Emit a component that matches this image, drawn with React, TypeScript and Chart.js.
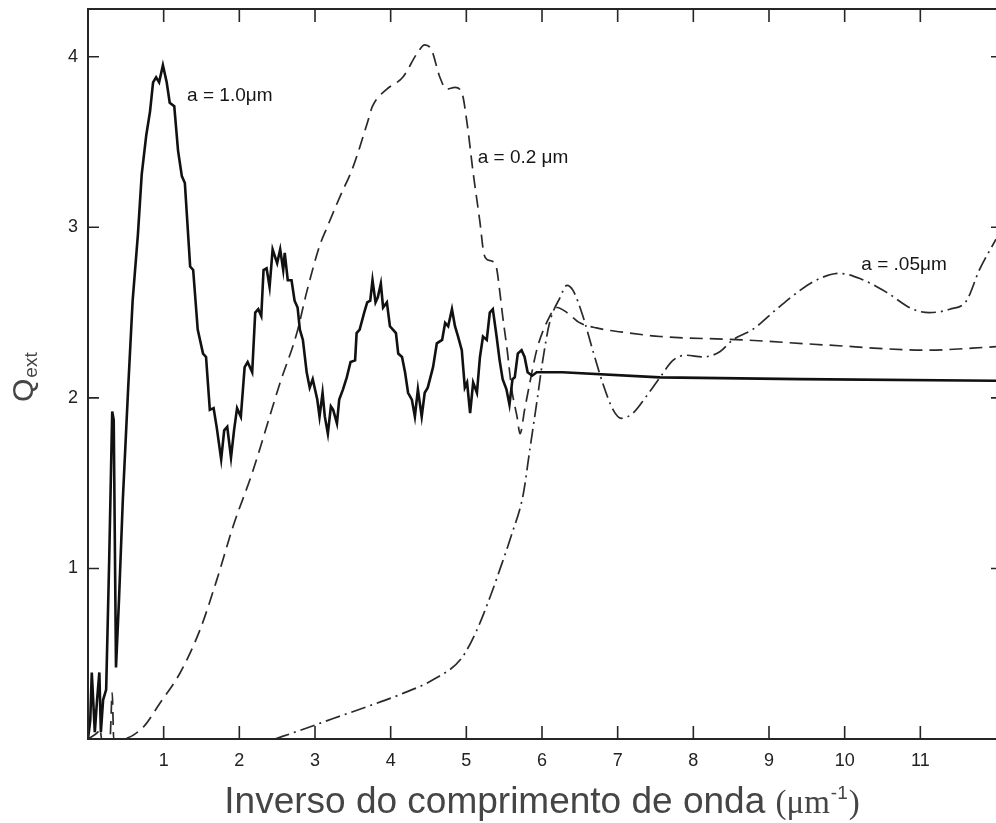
import React, { useEffect, useRef } from "react";
import { Chart, registerables } from "chart.js";

Chart.register(...registerables);

// ---- axes ----
const X_MIN = 0;
const X_MAX = 12;
const Y_MIN = 0;
const Y_MAX = 4.28;
const X_TICKS = [1, 2, 3, 4, 5, 6, 7, 8, 9, 10, 11];
const Y_TICKS = [1, 2, 3, 4];

const X_TITLE_MAIN = "Inverso do comprimento de onda ";
const X_TITLE_UNIT_OPEN = "(\u03bcm";
const X_TITLE_UNIT_SUP = "-1";
const X_TITLE_UNIT_CLOSE = ")";
const Y_TITLE_MAIN = "Q";
const Y_TITLE_SUB = "ext";

// ---- a = 1.0 um (solid) ----
const A10_X = [
  0, 0.03, 0.05, 0.09, 0.12, 0.15, 0.17, 0.2, 0.24, 0.28,
  0.32, 0.34, 0.37, 0.41, 0.46, 0.53, 0.59, 0.66, 0.71, 0.77,
  0.82, 0.86, 0.9, 0.94, 0.99, 1.04, 1.08, 1.14, 1.19, 1.24,
  1.28, 1.35, 1.39, 1.45, 1.52, 1.56, 1.61, 1.66, 1.7, 1.76,
  1.8, 1.84, 1.89, 1.93, 1.97, 2.02, 2.07, 2.11, 2.17, 2.21,
  2.25, 2.29, 2.32, 2.36, 2.4, 2.44, 2.5, 2.54, 2.58, 2.6,
  2.64, 2.69, 2.73, 2.77, 2.8, 2.84, 2.89, 2.93, 2.97, 3.03,
  3.06, 3.1, 3.13, 3.17, 3.21, 3.24, 3.29, 3.32, 3.37, 3.42,
  3.47, 3.53, 3.55, 3.59, 3.65, 3.69, 3.73, 3.76, 3.8, 3.83,
  3.87, 3.9, 3.95, 3.99, 4.03, 4.07, 4.1, 4.15, 4.19, 4.23,
  4.28, 4.32, 4.36, 4.41, 4.45, 4.49, 4.56, 4.61, 4.68, 4.72,
  4.76, 4.81, 4.85, 4.89, 4.94, 4.98, 5.01, 5.05, 5.09, 5.14,
  5.18, 5.22, 5.27, 5.31, 5.35, 5.4, 5.44, 5.48, 5.53, 5.57,
  5.61, 5.64, 5.68, 5.73, 5.77, 5.81, 5.87, 5.93, 6.27, 7.56,
  9.41, 12.0,
];
const A10_Y = [
  0, 0.11, 0.39, 0.04, 0.23, 0.39, 0.04, 0.23, 0.29, 1.05,
  1.92, 1.87, 0.42, 0.82, 1.4, 2.05, 2.57, 2.96, 3.31, 3.54,
  3.68, 3.85, 3.88, 3.85, 3.95, 3.85, 3.73, 3.71, 3.45, 3.3,
  3.26, 2.77, 2.75, 2.4, 2.26, 2.24, 1.93, 1.94, 1.83, 1.64,
  1.81, 1.83, 1.65, 1.81, 1.94, 1.89, 2.18, 2.21, 2.15, 2.5,
  2.52, 2.48, 2.75, 2.76, 2.65, 2.87, 2.79, 2.87, 2.75, 2.85,
  2.69, 2.69, 2.57, 2.53, 2.4, 2.34, 2.15, 2.06, 2.11, 1.99,
  1.89, 2.03, 1.89, 1.79, 1.95, 1.93, 1.85, 1.99, 2.05, 2.12,
  2.21, 2.22, 2.38, 2.4, 2.5, 2.56, 2.57, 2.69, 2.56, 2.59,
  2.67, 2.53, 2.56, 2.42, 2.4, 2.38, 2.26, 2.24, 2.15, 2.03,
  1.99, 1.89, 2.05, 1.89, 2.03, 2.06, 2.18, 2.32, 2.34, 2.44,
  2.42, 2.52, 2.42, 2.36, 2.28, 2.06, 2.09, 1.91, 2.09, 2.03,
  2.24, 2.36, 2.34, 2.5, 2.52, 2.36, 2.22, 2.11, 2.05, 1.96,
  2.11, 2.12, 2.26, 2.28, 2.24, 2.15, 2.13, 2.15, 2.15, 2.12,
  2.11, 2.1,
];

// ---- a = 0.2 um (dashed) ----
const A02_X = [
  0, 0.13, 0.16, 0.18, 0.29, 0.32, 0.34, 0.45, 0.73, 0.95,
  1.22, 1.48, 1.7, 1.92, 2.17, 2.54, 2.76, 2.89, 3.06, 3.16,
  3.33, 3.5, 3.69, 3.76, 3.95, 4.16, 4.35, 4.45, 4.54, 4.65,
  4.74, 4.85, 4.94, 5.01, 5.09, 5.18, 5.23, 5.28, 5.35, 5.4,
  5.44, 5.48, 5.54, 5.6, 5.67, 5.71, 5.77, 5.84, 5.93, 6.06,
  6.2, 6.33, 6.5, 6.72, 7.16, 7.56, 8.65, 9.76, 11.08, 12.0,
];
const A02_Y = [
  0, 0.04, 0.06, 0, 0, 0.27, 0, 0, 0.07, 0.21,
  0.39, 0.64, 0.93, 1.25, 1.56, 2.09, 2.38, 2.62, 2.89, 3.0,
  3.18, 3.35, 3.61, 3.71, 3.81, 3.88, 4.02, 4.07, 4.04, 3.88,
  3.81, 3.82, 3.79, 3.61, 3.32, 3.03, 2.85, 2.81, 2.8, 2.76,
  2.63, 2.48, 2.28, 2.05, 1.89, 1.79, 1.93, 2.09, 2.28, 2.44,
  2.53, 2.5, 2.44, 2.41, 2.38, 2.36, 2.34, 2.31, 2.28, 2.3,
];

// ---- a = 0.05 um (dash-dot) ----
const A005_X = [
  2.47, 2.8, 3.24, 3.69, 4.12, 4.57, 4.93, 5.13, 5.32, 5.44,
  5.6, 5.75, 5.84, 5.93, 6.01, 6.1, 6.24, 6.33, 6.41, 6.54,
  6.67, 6.8, 6.94, 7.05, 7.2, 7.38, 7.56, 7.73, 7.91, 8.12,
  8.35, 8.52, 8.78, 9.1, 9.41, 9.67, 9.93, 10.2, 10.55, 10.9,
  11.12, 11.39, 11.61, 11.78, 12.0,
];
const A005_Y = [
  0, 0.05, 0.12, 0.19, 0.26, 0.35, 0.47, 0.63, 0.84, 0.99,
  1.2, 1.43, 1.7, 1.97, 2.22, 2.44, 2.59, 2.66, 2.63, 2.48,
  2.28, 2.09, 1.93, 1.88, 1.91, 2.01, 2.12, 2.22, 2.25, 2.24,
  2.27, 2.34, 2.4, 2.52, 2.63, 2.7, 2.73, 2.7, 2.62, 2.52,
  2.5, 2.52, 2.57, 2.75, 2.93,
];

// ---- curve labels (anchored in data units) ----
const CURVE_LABEL_TEXT = ["a = 1.0\u03bcm", "a = 0.2 \u03bcm", "a = .05\u03bcm"];
const CURVE_LABEL_X = [1.31, 5.15, 10.22];
const CURVE_LABEL_Y = [3.77, 3.41, 2.78];

const toPoints = (xs: number[], ys: number[]) => xs.map((x, i) => ({ x, y: ys[i] }));

const framePlugin = {
  id: "frameAndText",
  afterDatasetsDraw(chart: any) {
    const { ctx, chartArea: a, scales } = chart;
    const xs = scales.x;
    const ys = scales.y;
    ctx.save();
    // frame
    ctx.strokeStyle = "#262626";
    ctx.lineWidth = 2;
    ctx.beginPath();
    ctx.moveTo(a.left, a.top);
    ctx.lineTo(a.right, a.top);
    ctx.moveTo(a.left, a.top - 1);
    ctx.lineTo(a.left, a.bottom + 1);
    ctx.moveTo(a.left, a.bottom);
    ctx.lineTo(a.right, a.bottom);
    ctx.stroke();
    // inward ticks
    ctx.lineWidth = 1.6;
    ctx.beginPath();
    for (const t of xs.ticks) {
      const p = xs.getPixelForValue(t.value);
      ctx.moveTo(p, a.bottom);
      ctx.lineTo(p, a.bottom - 13);
      ctx.moveTo(p, a.top);
      ctx.lineTo(p, a.top + 13);
    }
    for (const t of ys.ticks) {
      const p = ys.getPixelForValue(t.value);
      ctx.moveTo(a.left, p);
      ctx.lineTo(a.left + 11, p);
      ctx.moveTo(a.right, p);
      ctx.lineTo(a.right - 5, p);
    }
    ctx.stroke();

    // curve labels
    ctx.fillStyle = "#161616";
    ctx.font = "19px 'Liberation Sans', Arial, sans-serif";
    ctx.textAlign = "left";
    ctx.textBaseline = "middle";
    CURVE_LABEL_TEXT.forEach((txt, i) => {
      ctx.fillText(txt, xs.getPixelForValue(CURVE_LABEL_X[i]), ys.getPixelForValue(CURVE_LABEL_Y[i]));
    });

    // x title
    ctx.fillStyle = "#454545";
    ctx.textBaseline = "alphabetic";
    const sansBig = "37px 'Liberation Sans', Arial, sans-serif";
    const serifBig = "33px 'Liberation Serif', 'Times New Roman', serif";
    const sansSup = "19px 'Liberation Sans', Arial, sans-serif";
    ctx.font = sansBig;
    const w1 = ctx.measureText(X_TITLE_MAIN).width;
    ctx.font = serifBig;
    const w2 = ctx.measureText(X_TITLE_UNIT_OPEN).width;
    const w4 = ctx.measureText(X_TITLE_UNIT_CLOSE).width;
    ctx.font = sansSup;
    const w3 = ctx.measureText(X_TITLE_UNIT_SUP).width;
    const total = w1 + w2 + w3 + w4 + 2;
    let x0 = (a.left + a.right) / 2 - total / 2;
    const base = 813;
    ctx.font = sansBig;
    ctx.fillText(X_TITLE_MAIN, x0, base);
    x0 += w1;
    ctx.font = serifBig;
    ctx.fillText(X_TITLE_UNIT_OPEN, x0, base);
    x0 += w2 + 1;
    ctx.font = sansSup;
    ctx.fillText(X_TITLE_UNIT_SUP, x0, base - 14);
    x0 += w3 + 1;
    ctx.font = serifBig;
    ctx.fillText(X_TITLE_UNIT_CLOSE, x0, base);

    // y title (rotated)
    ctx.save();
    ctx.translate(33, 402);
    ctx.rotate(-Math.PI / 2);
    ctx.font = "30px 'Liberation Sans', Arial, sans-serif";
    ctx.fillText(Y_TITLE_MAIN, 0, 0);
    const wq = ctx.measureText(Y_TITLE_MAIN).width;
    ctx.font = "19px 'Liberation Sans', Arial, sans-serif";
    ctx.fillText(Y_TITLE_SUB, wq + 1, 4);
    ctx.restore();

    ctx.restore();
  },
};

export default function App() {
  const ref = useRef<HTMLCanvasElement | null>(null);

  useEffect(() => {
    if (!ref.current) return;
    const chart = new Chart(ref.current, {
      type: "line",
      data: {
        datasets: [
          {
            label: "a = 1.0 \u03bcm",
            data: toPoints(A10_X, A10_Y),
            borderColor: "#111111",
            borderWidth: 2.6,
            pointRadius: 0,
            tension: 0,
            fill: false,
          },
          {
            label: "a = 0.2 \u03bcm",
            data: toPoints(A02_X, A02_Y),
            borderColor: "#2a2a2a",
            borderWidth: 1.7,
            borderDash: [13, 7],
            pointRadius: 0,
            cubicInterpolationMode: "monotone",
            fill: false,
          },
          {
            label: "a = 0.05 \u03bcm",
            data: toPoints(A005_X, A005_Y),
            borderColor: "#2a2a2a",
            borderWidth: 1.7,
            borderDash: [15, 5, 2, 5],
            pointRadius: 0,
            cubicInterpolationMode: "monotone",
            fill: false,
          },
        ],
      },
      options: {
        animation: false,
        responsive: false,
        devicePixelRatio: 1,
        layout: { padding: { top: 9, left: 0, right: 0, bottom: 0 } },
        plugins: {
          legend: { display: false },
          tooltip: { enabled: false },
          title: { display: false },
        },
        scales: {
          x: {
            type: "linear",
            min: X_MIN,
            max: X_MAX,
            grid: { display: false, drawTicks: false },
            border: { display: false },
            afterBuildTicks: (s: any) => {
              s.ticks = X_TICKS.map((v) => ({ value: v }));
            },
            afterFit: (s: any) => {
              s.height = 84;
              s.paddingLeft = 0;
              s.paddingRight = 0;
            },
            ticks: {
              padding: 11,
              color: "#222222",
              font: { family: "'Liberation Sans', Arial, sans-serif", size: 18 },
              maxRotation: 0,
              autoSkip: false,
            },
          },
          y: {
            type: "linear",
            min: Y_MIN,
            max: Y_MAX,
            grid: { display: false, drawTicks: false },
            border: { display: false },
            afterBuildTicks: (s: any) => {
              s.ticks = Y_TICKS.map((v) => ({ value: v }));
            },
            afterFit: (s: any) => {
              s.width = 88;
              s.paddingTop = 0;
              s.paddingBottom = 0;
            },
            ticks: {
              padding: 10,
              color: "#222222",
              font: { family: "'Liberation Sans', Arial, sans-serif", size: 18 },
              autoSkip: false,
            },
          },
        },
      },
      plugins: [framePlugin],
    });
    return () => chart.destroy();
  }, []);

  return (
    <div style={{ position: "fixed", left: 0, top: 0, width: 996, height: 823, background: "#fff", overflow: "hidden" }}>
      <canvas ref={ref} width={996} height={823} style={{ display: "block", width: 996, height: 823 }} />
    </div>
  );
}
